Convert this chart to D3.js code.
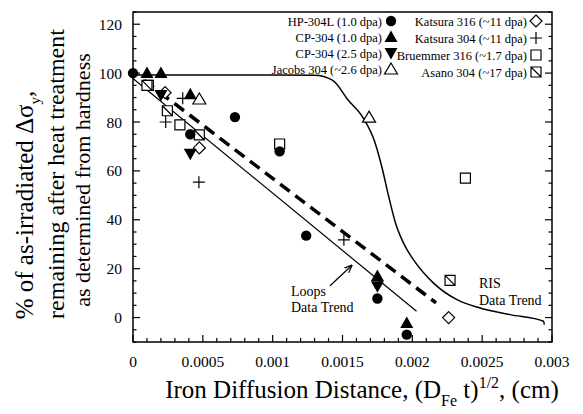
<!DOCTYPE html>
<html>
<head>
<meta charset="utf-8">
<script src="https://cdn.jsdelivr.net/npm/d3@7/dist/d3.min.js"></script>
<style>
  body { margin: 0; background: #fff; }
  svg text { font-family: "Liberation Serif", "Times New Roman", serif; fill: #000; }
</style>
</head>
<body>
<div id="chart"></div>
<script>
// data
var hpX = [0, 0.00041, 0.00073, 0.00105, 0.00124, 0.00175, 0.00196];
var hpY = [100, 75, 82, 68, 33.5, 7.8, -7];
var cp10X = [0.0001, 0.0002, 0.00041, 0.00175, 0.00196];
var cp10Y = [100, 100, 91.4, 17, -2.2];
var cp25X = [0.0002, 0.00041, 0.00175];
var cp25Y = [91, 67, 12.8];
var jacX = [0.000475, 0.00169];
var jacY = [89.4, 82];
var kat316X = [0.00023, 0.000475, 0.00226];
var kat316Y = [92, 69.4, 0];
var kat304X = [0.000234, 0.000356, 0.000472, 0.00151];
var kat304Y = [80, 89.7, 55.4, 31.8];
var bruX = [0.00011, 0.000336, 0.00105, 0.00238];
var bruY = [95, 78.8, 71, 57];
var asaX = [0.0001, 0.000246, 0.000475, 0.00227];
var asaY = [95, 84.6, 74.7, 15.2];

// trend lines
var loopsX = [0, 0.00203];
var loopsY = [97.8, 2.6];
var dashX = [0.00008, 0.00217];
var dashY = [97, 6];
var risX = [0, 0.0005, 0.001, 0.0013, 0.00143, 0.00154, 0.00165, 0.00173, 0.00178, 0.001835, 0.00188, 0.00195, 0.00201, 0.00215, 0.00232, 0.00248, 0.0027, 0.00294, 0.002945];
var risY = [99.2, 99.2, 99.2, 99.1, 97, 89, 81.5, 72, 62, 48.5, 38.6, 29, 23.5, 14.2, 7.3, 4, 1.2, -1.5, -2.9];

var xTicks = [0, 0.0005, 0.001, 0.0015, 0.002, 0.0025, 0.003];
var xTickLabels = ["0", "0.0005", "0.001", "0.0015", "0.002", "0.0025", "0.003"];
var yTicks = [0, 20, 40, 60, 80, 100, 120];

var legendLeft = [
    ["HP-304L (1.0 dpa)", "circle"],
    ["CP-304 (1.0 dpa)", "triUp"],
    ["CP-304 (2.5 dpa)", "triDown"],
    ["Jacobs 304 (~2.6 dpa)", "openTri"]
];
var legendRight = [
    ["Katsura 316 (~11 dpa)", "diamond"],
    ["Katsura 304 (~11 dpa)", "plus"],
    ["Bruemmer 316 (~1.7 dpa)", "square"],
    ["Asano 304 (~17 dpa)", "squareDiag"]
];

(function() {
    var width = 583, height = 414;
    var left = 133, right = 552, top = 12, bottom = 342;

    var svg = d3.select("#chart").append("svg")
        .attr("width", width)
        .attr("height", height);

    var x = d3.scaleLinear().domain([0, 0.003]).range([left, right]);
    var y = d3.scaleLinear().domain([-10, 125]).range([bottom, top]);

    // markers
    var shapes = {
        circle: "M5.2,0A5.2,5.2 0 1,1 -5.2,0A5.2,5.2 0 1,1 5.2,0Z",
        triUp: "M0,-6.5L6.5,5L-6.5,5Z",
        triDown: "M0,6.5L6.5,-5L-6.5,-5Z",
        openTri: "M0,-6L6.5,5L-6.5,5Z",
        diamond: "M0,-6L6,0L0,6L-6,0Z",
        plus: "M-6,0H6M0,-6V6",
        square: "M-5,-5H5V5H-5Z",
        squareDiag: "M-5,-5H5V5H-5ZM-5,-5L5,5"
    };
    var filled = { circle: true, triUp: true, triDown: true };

    function marker(g, type, px, py) {
        g.append("path")
            .attr("d", shapes[type])
            .attr("transform", "translate(" + px + "," + py + ")")
            .attr("fill", filled[type] ? "#000" : (type == "plus" ? "none" : "#fff"))
            .attr("stroke", "#000")
            .attr("stroke-width", filled[type] ? 0 : 1.2);
    }

    // trend lines
    var line = d3.line()
        .x(function(d) { return x(d[0]); })
        .y(function(d) { return y(d[1]); });

    svg.append("path")
        .attr("d", line(d3.zip(loopsX, loopsY)))
        .attr("fill", "none")
        .attr("stroke", "#000")
        .attr("stroke-width", 1.2);

    svg.append("path")
        .attr("d", line(d3.zip(dashX, dashY)))
        .attr("fill", "none")
        .attr("stroke", "#000")
        .attr("stroke-width", 3.5)
        .attr("stroke-dasharray", "12,7");

    svg.append("path")
        .attr("d", line.curve(d3.curveMonotoneX)(d3.zip(risX, risY)))
        .attr("fill", "none")
        .attr("stroke", "#000")
        .attr("stroke-width", 1.5);

    // points
    var series = [
        [bruX, bruY, "square"],
        [asaX, asaY, "squareDiag"],
        [kat316X, kat316Y, "diamond"],
        [kat304X, kat304Y, "plus"],
        [jacX, jacY, "openTri"],
        [hpX, hpY, "circle"],
        [cp10X, cp10Y, "triUp"],
        [cp25X, cp25Y, "triDown"]
    ];
    var pts = svg.append("g");
    series.forEach(function(s) {
        s[0].forEach(function(v, i) {
            marker(pts, s[2], x(v), y(s[1][i]));
        });
    });

    // frame and axes
    svg.append("rect")
        .attr("x", left).attr("y", top)
        .attr("width", right - left).attr("height", bottom - top)
        .attr("fill", "none")
        .attr("stroke", "#000")
        .attr("stroke-width", 1.5);

    var ax = svg.append("g").attr("stroke", "#000").attr("stroke-width", 1.2);
    d3.range(0, 0.00301, 0.0001).forEach(function(v, i) {
        var len = (i % 5 == 0) ? 7 : 4;
        ax.append("line").attr("x1", x(v)).attr("x2", x(v))
            .attr("y1", bottom).attr("y2", bottom - len);
    });
    d3.range(-10, 126, 5).forEach(function(v) {
        var len = (v % 20 == 0) ? 7 : 3.5;
        ax.append("line").attr("x1", left).attr("x2", left + len)
            .attr("y1", y(v)).attr("y2", y(v));
        ax.append("line").attr("x1", right).attr("x2", right - len)
            .attr("y1", y(v)).attr("y2", y(v));
    });

    svg.selectAll(".xlab").data(xTicks).enter().append("text")
        .attr("x", function(d) { return x(d); })
        .attr("y", 367)
        .attr("text-anchor", "middle")
        .attr("font-size", 15.5)
        .text(function(d, i) { return xTickLabels[i]; });

    svg.selectAll(".ylab").data(yTicks).enter().append("text")
        .attr("x", 122)
        .attr("y", function(d) { return y(d) + 5.5; })
        .attr("text-anchor", "end")
        .attr("font-size", 15.5)
        .text(function(d) { return d; });

    // axis titles
    var xt = svg.append("text")
        .attr("x", 362)
        .attr("y", 398)
        .attr("text-anchor", "middle")
        .attr("font-size", 25);
    xt.append("tspan").text("Iron Diffusion Distance, (D");
    xt.append("tspan").attr("font-size", 16).attr("dy", 8).text("Fe");
    xt.append("tspan").attr("dy", -8).text(" t)");
    xt.append("tspan").attr("font-size", 16).attr("dy", -10).text("1/2");
    xt.append("tspan").attr("dy", 10).text(",  (cm)");

    var yt = svg.append("g").attr("transform", "rotate(-90)");
    var t1 = yt.append("text").attr("x", -205).attr("y", 33)
        .attr("text-anchor", "middle").attr("font-size", 25);
    t1.append("tspan").text("% of as-irradiated \u0394\u03C3");
    t1.append("tspan").attr("font-size", 15).attr("dy", 7).text("y");
    t1.append("tspan").attr("dy", -7).text(",");
    yt.append("text").attr("x", -174).attr("y", 64)
        .attr("text-anchor", "middle").attr("font-size", 24)
        .text("remaining after heat treatment");
    yt.append("text").attr("x", -180).attr("y", 90)
        .attr("text-anchor", "middle").attr("font-size", 22)
        .text("as determined from hardness");

    // legends
    var lg = svg.append("g");
    function legendText(tx, ty, s) {
        lg.append("text")
            .attr("x", tx).attr("y", ty)
            .attr("text-anchor", "end")
            .attr("font-size", 12.5)
            .text(s);
    }
    legendLeft.forEach(function(d, i) {
        var ly = 21 + i * 16;
        legendText(382, ly + 4.5, d[0]);
        marker(lg, d[1], 391, ly);
    });
    legendRight.forEach(function(d, i) {
        var ly = 21 + i * 17;
        legendText(527, ly + 4.5, d[0]);
        marker(lg, d[1], 536, ly);
    });

    // annotations
    var note = svg.append("g").attr("font-size", 14);
    note.append("text").attr("x", 291).attr("y", 296).text("Loops");
    note.append("text").attr("x", 291).attr("y", 312).text("Data Trend");
    note.append("text").attr("x", 479).attr("y", 288).text("RIS");
    note.append("text").attr("x", 479).attr("y", 305).text("Data Trend");

    svg.append("defs").append("marker")
        .attr("id", "arr").attr("viewBox", "0 0 10 10")
        .attr("refX", 9).attr("refY", 5)
        .attr("markerWidth", 8).attr("markerHeight", 8)
        .attr("markerUnits", "userSpaceOnUse")
        .attr("orient", "auto")
        .append("path").attr("d", "M0,1L10,5L0,9").attr("fill", "none").attr("stroke", "#000").attr("stroke-width", 1.5);
    svg.append("line")
        .attr("x1", x(0.001411)).attr("y1", y(13))
        .attr("x2", x(0.001566)).attr("y2", y(21.3))
        .attr("stroke", "#000").attr("stroke-width", 1.2)
        .attr("marker-end", "url(#arr)");
})();
</script>
</body>
</html>
